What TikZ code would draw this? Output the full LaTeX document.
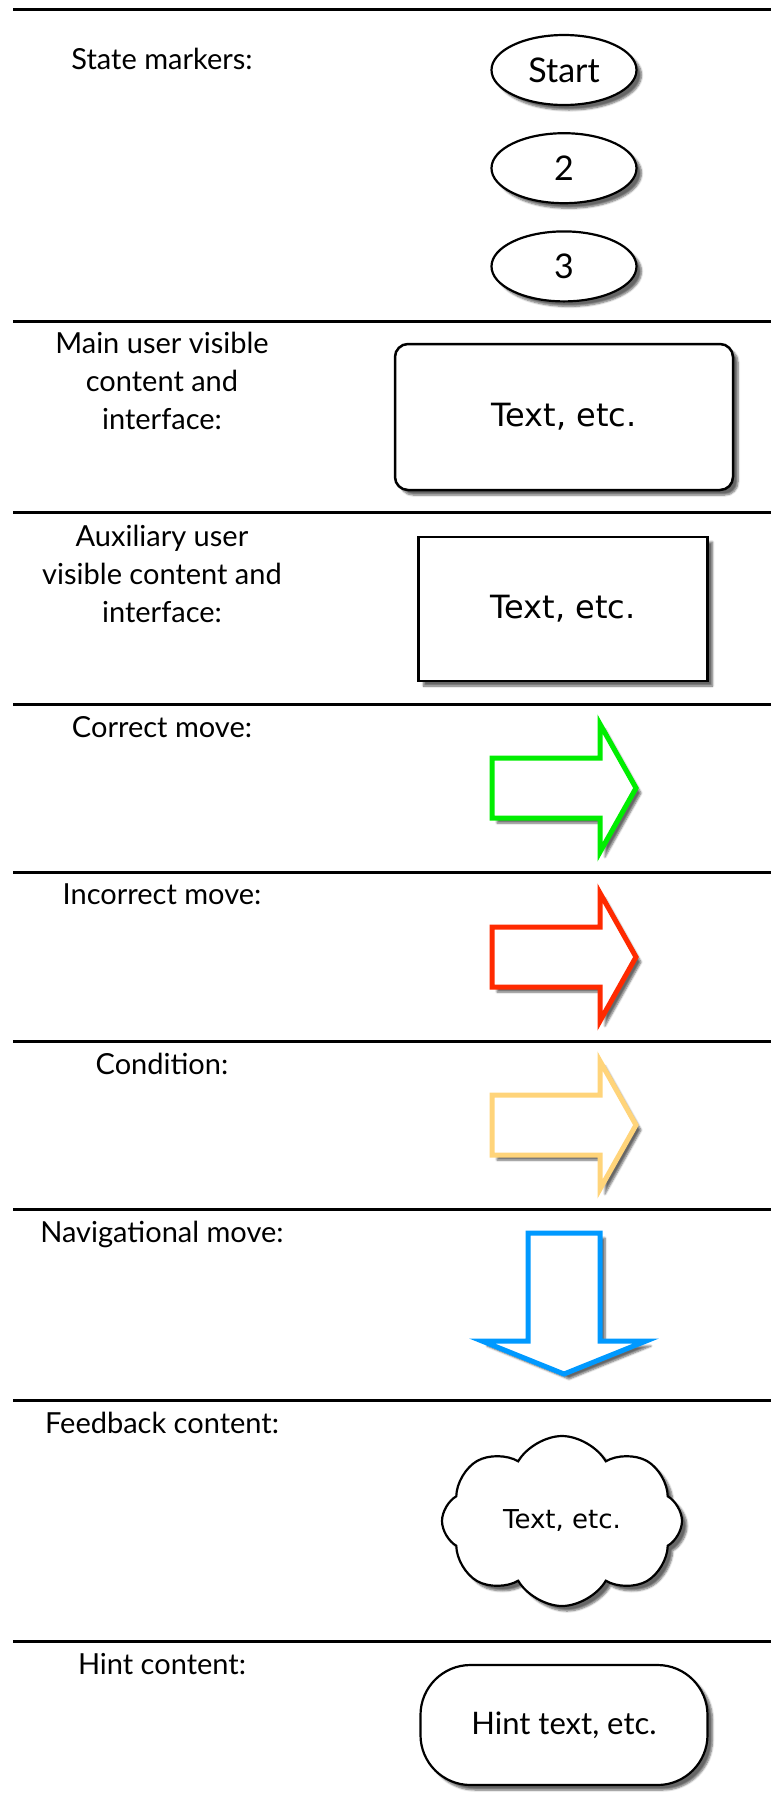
\documentclass[tikz,border=0pt]{standalone}
\usepackage{fontspec}
\setmainfont{Lato}
\newfontfamily\boxfont{DejaVu Sans}
\usetikzlibrary{positioning, shapes.geometric, shapes.symbols, shadows.blur}
\definecolor{correctgreen}{RGB}{0,238,0}
\definecolor{wrongred}{RGB}{255,42,0}
\definecolor{condyellow}{RGB}{255,212,122}
\definecolor{navblue}{RGB}{0,153,255}
\tikzset{
    x=1pt, y=-1pt, % one unit per pixel, y runs downwards
    softshadow/.style={blur shadow={shadow xshift=5pt, shadow yshift=-5pt, shadow blur steps=6, shadow opacity=60}},
    rowlabel/.style={anchor=north, align=center, inner sep=0pt, font=\fontsize{29}{38}\selectfont},
    rowrule/.style={line width=3pt},
    statemark/.style={ellipse, draw, line width=2.2pt, fill=white, softshadow, minimum width=145pt, minimum height=70pt, inner sep=0pt, font=\fontsize{34}{36}\selectfont},
    mainbox/.style={rectangle, rounded corners=13pt, draw, line width=2.5pt, fill=white, softshadow, minimum width=338pt, minimum height=146pt, font=\boxfont\fontsize{32}{34}\selectfont},
    auxbox/.style={rectangle, draw, line width=2.5pt, fill=white, softshadow, minimum width=289pt, minimum height=144pt, font=\boxfont\fontsize{32}{34}\selectfont},
    movearrow/.style={line width=5pt, fill=white, softshadow}, % outlined block arrow
    feedback/.style={cloud, cloud puffs=8, cloud puff arc=120, aspect=1.35, draw, line width=2.2pt, fill=white, softshadow, minimum width=240pt, minimum height=170pt, font=\boxfont\fontsize{26}{28}\selectfont},
    hintbox/.style={rectangle, rounded corners=50pt, draw, line width=2.2pt, fill=white, softshadow, minimum width=287pt, minimum height=120pt, font=\fontsize{31}{33}\selectfont},
}

\begin{document}
\begin{tikzpicture}
    \useasboundingbox (0,0) rectangle (771,1800);
    \foreach \y in {9,321,512,704,872,1041,1209,1400,1641}
        \draw[rowrule] (13,\y) -- (771,\y);

    % labels
    \node[rowlabel] (lstate) at (162,48) {State markers:};
    \node[rowlabel] (lmain) at (162,332) {Main user visible\\content and\\interface:};
    \node[rowlabel] (laux) at (162,525) {Auxiliary user\\visible content and\\interface:};
    \node[rowlabel] (lcorrect) at (162,716) {Correct move:};
    \node[rowlabel] (lwrong) at (162,884) {Incorrect move:};
    \node[rowlabel] (lcond) at (162,1053) {Condition:};
    \node[rowlabel] (lnav) at (162,1221) {Navigational move:};
    \node[rowlabel] (lfeed) at (162,1412) {Feedback content:};
    \node[rowlabel] (lhint) at (162,1653) {Hint content:};

    % state markers
    \node[statemark] (start) at (564,70) {Start};
    \node[statemark, below=26pt of start] (two) {2};
    \node[statemark, below=26pt of two] (three) {3};

    \node[mainbox] (main) at (564,417) {Text, etc.};
    \node[auxbox] (aux) at (563,609) {Text, etc.};

    % moves
    \coordinate (correct) at (492,788);
    \coordinate (wrong) at (492,957);
    \coordinate (cond) at (492,1125);
    \coordinate (nav) at (564,1233);
    \draw[movearrow, draw=correctgreen] (correct) ++(0,-30) -- ++(108,0) -- ++(0,-34) -- ++(36,64) -- ++(-36,64) -- ++(0,-34) -- ++(-108,0) -- cycle;
    \draw[movearrow, draw=wrongred] (wrong) ++(0,-30) -- ++(108,0) -- ++(0,-34) -- ++(36,64) -- ++(-36,64) -- ++(0,-34) -- ++(-108,0) -- cycle;
    \draw[movearrow, draw=condyellow] (cond) ++(0,-30) -- ++(108,0) -- ++(0,-34) -- ++(36,64) -- ++(-36,64) -- ++(0,-34) -- ++(-108,0) -- cycle;
    \draw[movearrow, draw=navblue] (nav) ++(-36,0) -- ++(0,108) -- ++(-46,0) -- ++(82,33) -- ++(82,-33) -- ++(-46,0) -- ++(0,-108) -- cycle;

    \node[feedback] (feed) at (562,1521) {Text, etc.};
    \node[hintbox] (hint) at (564,1725) {Hint text, etc.};
\end{tikzpicture}
\end{document}
